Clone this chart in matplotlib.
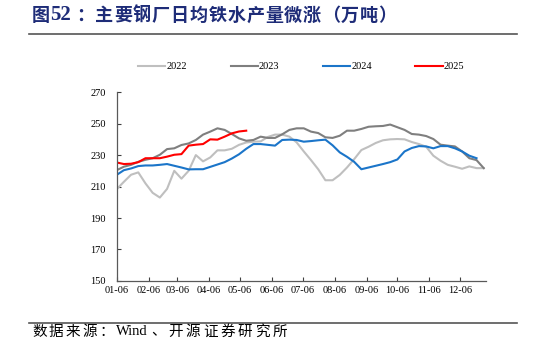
import numpy as np
import matplotlib.pyplot as plt
from matplotlib.lines import Line2D

plt.rcParams['font.family'] = ['Liberation Serif', 'Noto Sans CJK SC']

# weekly data, week index from 01-06
y2022 = [208.3, 213.0, 217.5, 219.0, 212.0, 206.0, 203.0, 208.5, 220.0, 215.0,
         220.0, 230.0, 226.0, 228.5, 233.0, 233.0, 234.0, 236.5, 238.0, 238.5,
         238.7, 241.5, 243.0, 243.0, 241.7, 238.1, 232.3, 226.8, 221.0, 214.0,
         214.0, 217.4, 222.1, 227.4, 233.2, 235.3, 237.7, 239.4, 240.0, 240.2,
         240.0, 238.3, 237.0, 235.3, 229.6, 226.4, 223.8, 222.6, 221.3, 222.8,
         221.7, 221.7]
y2023 = [220.4, 222.6, 223.8, 225.7, 227.0, 228.0, 230.2, 233.8, 234.3, 236.4,
         237.4, 239.6, 243.0, 244.9, 247.0, 246.0, 243.4, 240.6, 239.1, 239.6,
         241.7, 240.9, 240.9, 243.2, 246.0, 247.0, 247.0, 244.9, 244.0, 241.3,
         240.9, 242.3, 245.5, 245.5, 246.6, 248.0, 248.3, 248.5, 249.4, 247.7,
         246.0, 243.4, 243.0, 242.1, 240.2, 236.6, 236.0, 235.5, 232.3, 228.0,
         226.8, 221.7]
y2024 = [217.4, 220.4, 221.5, 223.0, 223.4, 223.4, 223.8, 224.3, 223.2, 222.1,
         220.9, 221.0, 221.0, 222.5, 224.0, 225.5, 227.8, 230.5, 234.0, 237.0,
         237.0, 236.5, 236.0, 239.6, 239.8, 239.6, 238.5, 238.9, 239.4, 239.8,
         236.2, 231.7, 228.9, 225.7, 221.0, 222.1, 223.2, 224.3, 225.5, 227.2,
         232.3, 234.5, 235.7, 235.5, 234.3, 235.7, 235.7, 234.3, 232.3, 229.6,
         228.0]
y2025 = [225.3, 224.3, 224.5, 225.5, 228.0, 228.0, 228.0, 229.0, 230.2, 230.6,
         236.0, 236.6, 237.0, 240.0, 239.8, 241.7, 243.8, 245.0, 245.5]

tick_days = [0, 31, 59, 90, 120, 151, 181, 212, 243, 273, 304, 334]
tick_labels = ['01-06', '02-06', '03-06', '04-06', '05-06', '06-06',
               '07-06', '08-06', '09-06', '10-06', '11-06', '12-06']

W, H = 546, 349
fig = plt.figure(figsize=(W / 100, H / 100), dpi=100)
ax = fig.add_axes([0.2137, 0.195, 0.676, 0.541])

series = [(y2022, '#BFBFBF', '2022'), (y2023, '#7F7F7F', '2023'),
          (y2024, '#1B75C9', '2024'), (y2025, '#FF0000', '2025')]
for vals, col, lab in series:
    days = np.arange(len(vals)) * 7
    ax.plot(days, vals, color=col, lw=1.5, label=lab)

ax.set_xlim(0, 359)
ax.set_ylim(150, 270)
ax.set_yticks(range(150, 271, 20))
ax.set_xticks(tick_days)
ax.set_xticklabels(tick_labels)
ax.tick_params(direction='in', length=3, width=0.8, colors='#404040',
               labelsize=7.5, labelcolor='black')
ax.tick_params(axis='y', pad=8)
for s in ['top', 'right']:
    ax.spines[s].set_visible(False)
for s in ['left', 'bottom']:
    ax.spines[s].set_color('#595959')
    ax.spines[s].set_linewidth(0.9)

ax.legend(loc='lower center', bbox_to_anchor=(0.5, 1.06), ncol=4, frameon=False,
          fontsize=7.5, handlelength=2.6, handletextpad=0.1, columnspacing=4.2)


def spaced(x0, y, s, pitch, **kw):
    # draw characters one by one to get the wide spacing of the original
    for i, c in enumerate(s):
        fig.text((x0 + i * pitch) / W, y, c, va='center', ha='left', **kw)


navy = '#1E2C78'
ty = 0.956
fig.text(32 / W, ty, '图', fontsize=13, fontweight='bold', color=navy,
         va='center', family=['Noto Sans CJK SC'])
fig.text(50 / W, ty, '52', fontsize=15, fontweight='bold', color=navy,
         va='center', family=['Liberation Serif'])
spaced(76, ty, '：主要钢厂日均铁水产量微涨（万吨）', 18.9, fontsize=13,
       fontweight='bold', color=navy, family=['Noto Sans CJK SC'])

fig.add_artist(Line2D([0.053, 0.947], [0.903, 0.903], color='#555555', lw=1.2))
fig.add_artist(Line2D([0.053, 0.947], [0.075, 0.075], color='#555555', lw=1.2))

sy = 0.05
spaced(32, sy, '数据来源：', 16.8, fontsize=10.5, color='black',
       family=['Noto Sans CJK SC'])
fig.text(116 / W, sy, 'Wind', fontsize=10.5, color='black', va='center',
         family=['Liberation Serif'])
spaced(151, sy, '、开源证券研究所', 17.3, fontsize=10.5, color='black',
       family=['Noto Sans CJK SC'])

fig.savefig('out.png', dpi=100)
